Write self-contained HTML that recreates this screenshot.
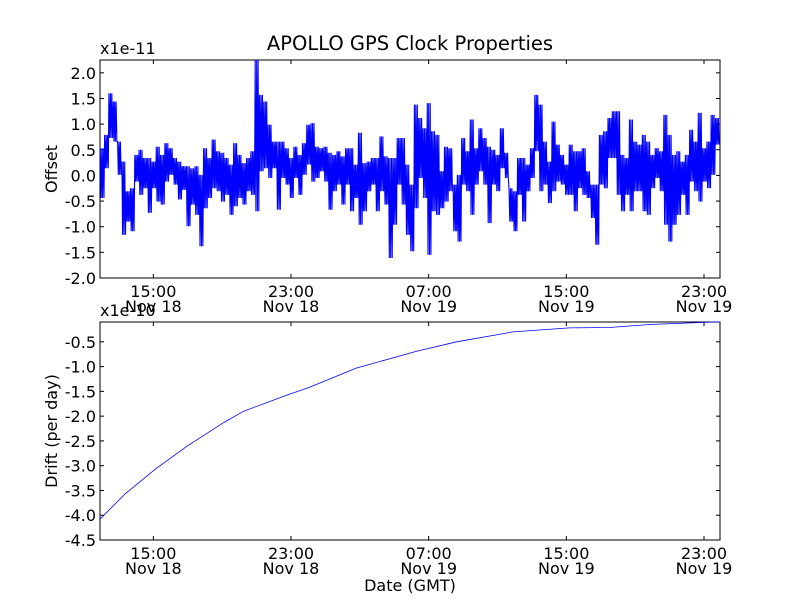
<!DOCTYPE html>
<html><head><meta charset="utf-8"><style>
html,body{margin:0;padding:0;background:#fff;}
svg{display:block;font-family:"DejaVu Sans","Liberation Sans",sans-serif;}
</style></head><body>
<svg id="chart" width="800" height="600" viewBox="0 0 800 600">
<rect width="800" height="600" fill="#fff"/>
<text x="410" y="50" font-size="19.5" text-anchor="middle">APOLLO GPS Clock Properties</text>
<g id="topPanel"></g>
<g id="botPanel"></g>
<text x="410" y="591" font-size="16" text-anchor="middle">Date (GMT)</text>
</svg>
<script>
// Offset envelope per 0.25h bin starting 11.9h (hours since Nov 18 00:00), units 1e-11
const offsetHi = [0.53,0.79,1.6,1.44,0.66,0.27,-0.31,-0.25,0.4,0.5,0.34,0.34,0.27,0.56,0.4,0.63,0.53,0.34,0.27,0.18,0.18,0.14,0.18,0.01,0.53,0.34,0.7,0.47,0.44,0.34,0.21,0.63,0.4,0.24,0.34,0.47,2.25,
1.57,1.44,0.99,0.66,0.66,0.66,0.53,0.34,0.56,0.4,0.63,0.99,1.02,0.56,0.53,0.56,0.44,0.4,0.47,0.37,0.53,0.53,0.21,0.83,0.24,0.27,0.34,0.34,0.76,0.37,0.34,0.34,0.73,0.73,0.21,-0.18,
1.38,1.12,0.92,1.41,0.86,0.79,0.08,0.56,0.53,-0.18,0.01,0.73,0.47,1.09,0.53,0.92,0.73,0.56,0.5,0.4,0.92,0.44,-0.25,-0.31,0.34,0.34,0.21,0.53,1.57,1.38,0.66,0.27,1.05,0.6,0.4,0.21,
0.6,0.47,0.47,0.53,0.08,-0.18,-0.18,0.79,0.86,1.12,1.25,1.25,0.4,0.34,1.09,0.66,0.6,0.79,0.66,0.4,0.53,0.47,1.18,0.79,0.4,0.47,0.27,0.4,0.89,0.66,1.22,0.53,0.66,1.18,1.12];
const offsetLo = [-0.44,0.14,0.73,0.66,0.01,-1.16,-0.9,-1.09,-0.12,-0.38,-0.25,-0.73,-0.25,-0.51,-0.57,-0.12,0.01,-0.18,-0.47,-0.28,-0.99,-0.57,-0.77,-1.38,-0.64,-0.44,-0.25,-0.31,-0.51,-0.38,-0.77,-0.6,-0.44,-0.57,-0.31,-0.38,-0.7,
0.08,0.14,-0.05,0.14,-0.67,-0.05,-0.18,-0.44,-0.05,-0.38,0.01,0.21,-0.12,-0.05,0.08,-0.12,-0.67,-0.31,-0.18,-0.57,-0.18,-0.7,-0.44,-0.96,-0.7,-0.31,-0.18,-0.7,-0.31,-0.57,-1.61,-0.96,-0.18,-0.57,-1.16,-1.48,
-0.64,-0.05,-0.44,-1.55,-0.7,-0.77,-0.64,-0.51,-0.31,-1.09,-1.29,-0.18,-0.31,-0.77,-0.18,0.08,-0.18,-0.93,-0.18,-0.31,0.14,-0.05,-0.9,-1.09,-0.38,-0.9,-0.31,-0.05,0.47,-0.31,-0.18,-0.54,-0.31,-0.12,-0.18,-0.38,
-0.38,-0.7,-0.25,-0.38,-0.44,-0.83,-1.35,-0.18,-0.25,0.34,0.34,-0.38,-0.7,-0.38,-0.7,-0.31,-0.31,-0.7,-0.77,-0.25,-0.05,-0.31,-0.96,-1.29,-0.96,-0.77,-0.38,-0.77,-0.12,-0.31,-0.51,-0.12,-0.25,0.01,0.6];
// Drift curve (hours, value in 1e-10 per day)
const driftT = [11.9,13.36,15.12,16.98,19.09,20.25,22.82,23.99,26.79,30.3,32.63,35.9,39.17,41.51,43.84,47.58,47.93];
const driftV = [-4.08,-3.57,-3.07,-2.6,-2.13,-1.9,-1.57,-1.43,-1.03,-0.69,-0.5,-0.3,-0.22,-0.21,-0.15,-0.1,-0.1];
const tickHours = [15,23,31,39,47];
const tickTime = ["15:00","23:00","07:00","15:00","23:00"];
const tickDate = ["Nov 18","Nov 18","Nov 19","Nov 19","Nov 19"];
const offTicks = [-2.0,-1.5,-1.0,-0.5,0.0,0.5,1.0,1.5,2.0];
const driftTicks = [-4.5,-4.0,-3.5,-3.0,-2.5,-2.0,-1.5,-1.0,-0.5];

const NS="http://www.w3.org/2000/svg";
const X0=100,X1=720,T0=11.9,T1=47.93;
const xs=t=>X0+(t-T0)*(X1-X0)/(T1-T0);
function mk(p,tag,a){const e=document.createElementNS(NS,tag);for(const k in a)e.setAttribute(k,a[k]);p.appendChild(e);return e;}
function panel(g,Y0,Y1,vmin,vmax,ticks,ylabel,exp){
  const ys=v=>Y1-(v-vmin)*(Y1-Y0)/(vmax-vmin);
  const frame=mk(g,'rect',{x:X0,y:Y0,width:X1-X0,height:Y1-Y0,fill:'none',stroke:'#000','stroke-width':1});
  
  
  ticks.forEach(v=>{const y=ys(v);
    mk(g,'line',{x1:X0,x2:X0+4,y1:y,y2:y,stroke:'#000'});
    mk(g,'line',{x1:X1-4,x2:X1,y1:y,y2:y,stroke:'#000'});
    const t=mk(g,'text',{x:X0-4,y:y+6,'font-size':16,'text-anchor':'end'});
    t.textContent=v.toFixed(1);
    
    
  });
  tickHours.forEach((h,i)=>{const x=xs(h);
    mk(g,'line',{x1:x,x2:x,y1:Y1,y2:Y1-4,stroke:'#000'});
    mk(g,'line',{x1:x,x2:x,y1:Y0,y2:Y0+4,stroke:'#000'});
    const t=mk(g,'text',{x:x,y:Y1+19,'font-size':16,'text-anchor':'middle'});
    t.textContent=tickTime[i];
    
    
    const d=mk(g,'text',{x:x,y:Y1+34,'font-size':16,'text-anchor':'middle'});
    d.textContent=tickDate[i];
    
    
  });
  const yl=mk(g,'text',{x:0,y:0,'font-size':16,'text-anchor':'middle',transform:`translate(57,${(Y0+Y1)/2}) rotate(-90)`});
  yl.textContent=ylabel;
  
  
  const ex=mk(g,'text',{x:X0,y:Y0-6,'font-size':16});
  ex.textContent=exp;
  
  
  return ys;
}
const topG=document.getElementById('topPanel'), botG=document.getElementById('botPanel');
const ysT=panel(topG,60,278,-2.0,2.25,offTicks,'Offset','x1e-11');
let d='';
const nBins=Math.min(offsetHi.length,offsetLo.length);
for(let i=0;i<nBins;i++){const hi=offsetHi[i],lo=offsetLo[i];const t=T0+i*0.25;
  for(let j=0;j<6;j++){const v=(j%2===0)?hi:lo;const f=0.02+j*0.042;
    d+=(i===0&&j===0?'M':'L')+xs(t+f).toFixed(1)+','+ysT(v).toFixed(1);}
}
const offLine=mk(topG,'path',{d:d,fill:'none',stroke:'#0000ff','stroke-width':1.1});


const ysB=panel(botG,322,540,-4.5,-0.1,driftTicks,'Drift (per day)','x1e-10');
let d2='';
driftT.forEach((t,i)=>{d2+=(i?'L':'M')+xs(t).toFixed(1)+','+ysB(driftV[i]).toFixed(1);});
const drLine=mk(botG,'path',{d:d2,fill:'none',stroke:'#0000ff','stroke-width':0.8});


</script>
</body></html>
